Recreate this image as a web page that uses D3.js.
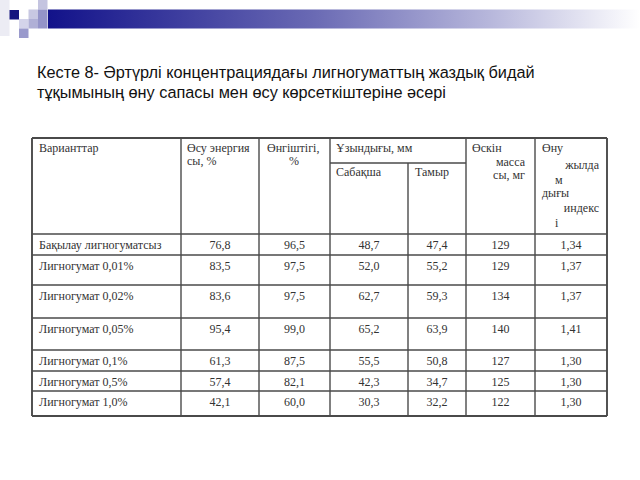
<!DOCTYPE html>
<html>
<head>
<meta charset="utf-8">
<script src="https://cdn.jsdelivr.net/npm/d3@7"></script>
<style>
  body { margin: 0; background: #fff; }
  svg { display: block; }
</style>
</head>
<body>
<div id="page"></div>
<script>
// Données du tableau
const variants = ["Бақылау лигногуматсыз", "Лигногумат 0,01%", "Лигногумат 0,02%", "Лигногумат 0,05%",
                  "Лигногумат 0,1%", "Лигногумат 0,5%", "Лигногумат 1,0%"];
const energy      = ["76,8", "83,5", "83,6", "95,4", "61,3", "57,4", "42,1"];
const germination = ["96,5", "97,5", "97,5", "99,0", "87,5", "82,1", "60,0"];
const stem        = ["48,7", "52,0", "62,7", "65,2", "55,5", "42,3", "30,3"];
const root        = ["47,4", "55,2", "59,3", "63,9", "50,8", "34,7", "32,2"];
const mass        = ["129", "129", "134", "140", "127", "125", "122"];
const growthIndex = ["1,34", "1,37", "1,37", "1,41", "1,30", "1,30", "1,30"];

const titleLines = ["Кесте 8- Әртүрлі концентрациядағы лигногуматтың жаздық бидай",
                    "тұқымының өну сапасы мен өсу көрсеткіштеріне әсері"];

// Mise en page (bords des colonnes et des lignes, en pixels)
const colEdges = [32, 181, 259, 330, 408, 466, 535, 607];
const rowEdges = [234, 255, 285, 318, 350, 371, 391, 416];
const tableTop = 138, subHeader = 163;

const svg = d3.select("#page").append("svg").attr("width", 640).attr("height", 480);

// Bandeau dégradé en haut
const defs = svg.append("defs");
const grad = defs.append("linearGradient").attr("id", "bandeau").attr("x1", "0").attr("x2", "1");
grad.append("stop").attr("offset", "0").attr("stop-color", "#12128a");
grad.append("stop").attr("offset", "0.45").attr("stop-color", "#6a6ab4");
grad.append("stop").attr("offset", "0.75").attr("stop-color", "#b8b8dc");
grad.append("stop").attr("offset", "1").attr("stop-color", "#ffffff");
svg.append("rect").attr("x", 48).attr("y", 9.5).attr("width", 592).attr("height", 19).attr("fill", "url(#bandeau)");

// Petits carrés décoratifs
const carres = [[0, 0, 9.5, 36, "#ececf4"], [9.5, 10, 9.5, 9.5, "#14147e"], [28.5, 9.5, 9.5, 9.5, "#c8c8e2"],
                [38, 0, 9.5, 9.5, "#c4c4e0"], [38, 9.5, 9.5, 19, "#9494c8"], [19, 19, 9.5, 9.5, "#d4d4ea"],
                [28.5, 19, 9.5, 9.5, "#b0b0d6"], [19, 28.5, 9.5, 9.5, "#9a9acc"]];
svg.selectAll("rect.carre").data(carres).join("rect").attr("class", "carre")
  .attr("x", d => d[0]).attr("y", d => d[1]).attr("width", d => d[2]).attr("height", d => d[3])
  .attr("fill", d => d[4]);

// Titre
svg.append("g").selectAll("text").data(titleLines).join("text")
  .attr("x", 37).attr("y", (d, i) => 78 + i * 19.5)
  .attr("font-family", "Liberation Sans, Arial, sans-serif").attr("font-size", 16.3)
  .attr("fill", "#111").text(d => d);

const table = svg.append("g");
const lineColor = "#4a4a4a";
const serif = "Liberation Serif, Times New Roman, serif";

// Lignes du tableau
const line = (x1, y1, x2, y2, w) => table.append("line")
  .attr("x1", x1).attr("y1", y1).attr("x2", x2).attr("y2", y2)
  .attr("stroke", lineColor).attr("stroke-width", w || 1.4);

const bottom = rowEdges[rowEdges.length - 1];
colEdges.forEach((x, i) => {
  if (i === 4) line(x, subHeader, x, bottom);
  else line(x, tableTop, x, bottom, (i === 0 || i === colEdges.length - 1) ? 1.9 : 1.4);
});
line(colEdges[0], tableTop, colEdges[7], tableTop, 1.9);
line(colEdges[3], subHeader, colEdges[5], subHeader);
rowEdges.forEach((y, i) => line(colEdges[0], y, colEdges[7], y, i === rowEdges.length - 1 ? 1.9 : 1.4));

// En-têtes
const headers = [
  ["Варианттар", 39, 152, "start"],
  ["Өсу энергия", 187, 152, "start"], ["сы, %", 187, 165, "start"],
  ["Өнгіштігі,", 267, 152, "start"], ["%", 294, 165, "middle"],
  ["Ұзындығы, мм", 336, 152, "start"],
  ["Сабақша", 336, 176, "start"], ["Тамыр", 415, 176, "start"],
  ["Өскін", 472, 152, "start"], ["масса", 525, 166, "end"], ["сы, мг", 525, 179, "end"],
  ["Өну", 542, 152, "start"], ["жылда", 599, 169, "end"], ["м", 555, 184, "start"],
  ["дығы", 542, 197, "start"], ["индекс", 599, 212, "end"], ["і", 555, 227, "start"]
];
table.append("g").selectAll("text").data(headers).join("text")
  .attr("x", d => d[1]).attr("y", d => d[2]).attr("text-anchor", d => d[3])
  .attr("font-family", serif).attr("font-size", 12).attr("fill", "#333").text(d => d[0]);

// Corps du tableau
const columns = [variants, energy, germination, stem, root, mass, growthIndex];
const y = d3.scaleOrdinal().domain(d3.range(variants.length)).range(rowEdges.slice(0, -1).map(v => v + 15));
const xCenter = i => (colEdges[i] + colEdges[i + 1]) / 2;

columns.forEach((col, c) => {
  table.append("g").selectAll("text").data(col).join("text")
    .attr("x", c === 0 ? 39 : xCenter(c))
    .attr("y", (d, i) => y(i))
    .attr("text-anchor", c === 0 ? "start" : "middle")
    .attr("font-family", serif).attr("font-size", 12).attr("fill", "#333")
    .text(d => d);
});
</script>
</body>
</html>
